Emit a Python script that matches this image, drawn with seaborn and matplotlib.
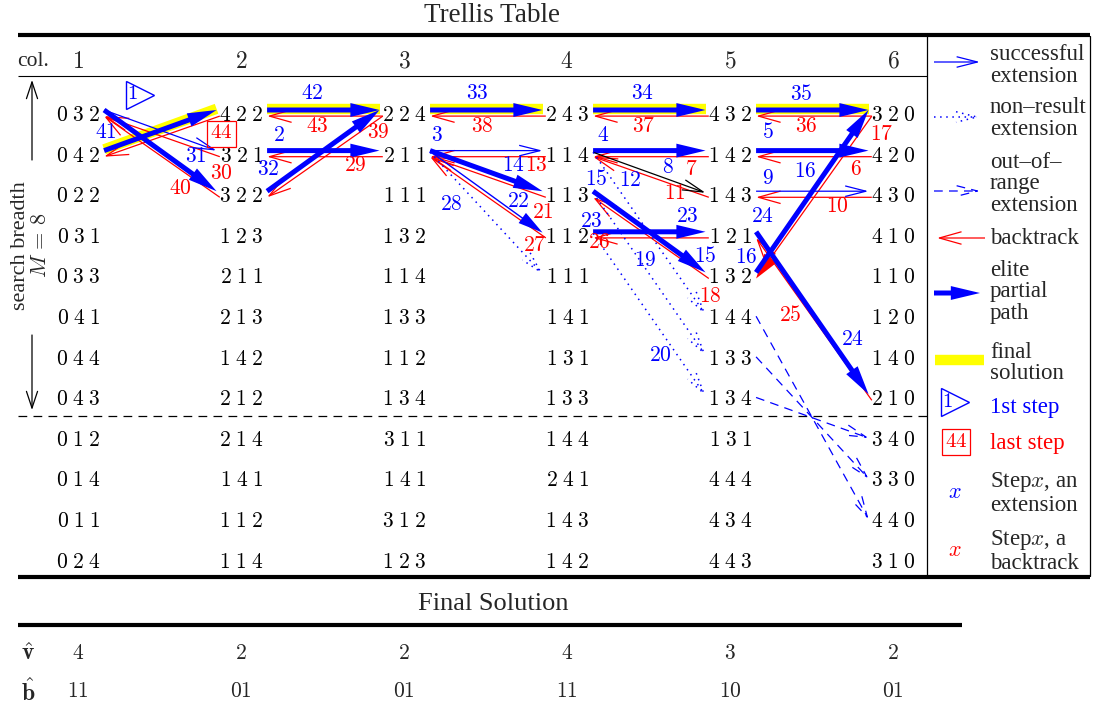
import numpy as np
import pandas as pd
import matplotlib
matplotlib.use('Agg')
import matplotlib.pyplot as plt
import seaborn as sns
from matplotlib.patches import FancyArrowPatch

# ---- data -------------------------------------------------------------
col_labels = ['1', '2', '3', '4', '5', '6']
cells_c1 = ['032', '042', '022', '031', '033', '041', '044', '043', '012', '014', '011', '024']
cells_c2 = ['422', '321', '322', '123', '211', '213', '142', '212', '214', '141', '112', '114']
cells_c3 = ['224', '211', '111', '132', '114', '133', '112', '134', '311', '141', '312', '123']
cells_c4 = ['243', '114', '113', '112', '111', '141', '131', '133', '144', '241', '143', '142']
cells_c5 = ['432', '142', '143', '121', '132', '144', '133', '134', '131', '444', '434', '443']
cells_c6 = ['320', '420', '430', '410', '110', '120', '140', '210', '340', '330', '440', '310']
cells = [cells_c1, cells_c2, cells_c3, cells_c4, cells_c5, cells_c6]
breadth = 8  # rows above the dashed line

final_rows = [2, 1, 1, 1, 1, 1]          # row of the final solution in each column
v_hat = ['4', '2', '2', '4', '3', '2']
b_hat = ['11', '01', '01', '11', '10', '01']

# (from_col, from_row, to_col, to_row, kind)
moves = [
    (1, 1, 2, 2, 'ext'), (1, 1, 2, 3, 'elite'), (1, 2, 2, 1, 'elite'),
    (2, 1, 1, 2, 'back'), (2, 2, 1, 1, 'back'), (2, 3, 1, 1, 'back'),
    (2, 1, 3, 1, 'elite'), (3, 1, 2, 1, 'back'), (2, 2, 3, 2, 'elite'), (3, 2, 2, 2, 'back'),
    (2, 3, 3, 1, 'elite'), (3, 1, 2, 3, 'back'),
    (3, 1, 4, 1, 'elite'), (4, 1, 3, 1, 'back'), (3, 2, 4, 2, 'ext'), (4, 2, 3, 2, 'back'),
    (3, 2, 4, 3, 'elite'), (4, 3, 3, 2, 'back'), (3, 2, 4, 4, 'thinhead'), (4, 4, 3, 2, 'back'),
    (3, 2, 4, 5, 'dot'),
    (4, 1, 5, 1, 'elite'), (5, 1, 4, 1, 'back'), (4, 2, 5, 2, 'elite'), (5, 2, 4, 2, 'back'),
    (4, 2, 5, 3, 'black'), (5, 3, 4, 2, 'back'), (4, 3, 5, 5, 'elite'), (5, 5, 4, 3, 'back'),
    (4, 4, 5, 4, 'elite'), (5, 4, 4, 4, 'back'),
    (4, 2, 5, 6, 'dot'), (4, 3, 5, 7, 'dot'), (4, 4, 5, 8, 'dot'),
    (5, 1, 6, 1, 'elite'), (6, 1, 5, 1, 'back'), (5, 2, 6, 2, 'elite'), (6, 2, 5, 2, 'back'),
    (5, 3, 6, 3, 'ext'), (6, 3, 5, 3, 'back'), (5, 5, 6, 1, 'elite'), (6, 1, 5, 5, 'backfill'),
    (5, 4, 6, 8, 'elite'), (6, 8, 5, 4, 'back'),
    (5, 6, 6, 11, 'dash'), (5, 7, 6, 10, 'dash'), (5, 8, 6, 9, 'dash'),
]

# step numbers: (text, colour kind, col, row) in table units
step_labels = [
    ('41', 'e', 1.17, 1.43), ('31', 'e', 1.72, 2.02), ('30', 'b', 1.88, 2.42), ('40', 'b', 1.63, 2.81),
    ('42', 'e', 2.44, 0.47), ('43', 'b', 2.47, 1.26), ('2', 'e', 2.23, 1.50), ('29', 'b', 2.70, 2.24),
    ('32', 'e', 2.17, 2.32), ('39', 'b', 2.84, 1.41),
    ('33', 'e', 3.45, 0.47), ('38', 'b', 3.48, 1.26), ('3', 'e', 3.20, 1.50), ('14', 'e', 3.67, 2.24),
    ('13', 'b', 3.81, 2.24), ('22', 'e', 3.70, 3.11), ('21', 'b', 3.85, 3.38), ('28', 'e', 3.29, 3.18),
    ('27', 'b', 3.80, 4.21),
    ('34', 'e', 4.46, 0.47), ('37', 'b', 4.47, 1.26), ('4', 'e', 4.22, 1.50), ('7', 'b', 4.76, 2.32),
    ('8', 'e', 4.62, 2.27), ('12', 'e', 4.39, 2.61), ('11', 'b', 4.66, 2.93), ('15', 'e', 4.18, 2.56),
    ('23', 'e', 4.15, 3.60), ('23', 'e', 4.74, 3.48), ('26', 'b', 4.20, 4.12), ('15', 'e', 4.85, 4.46),
    ('18', 'b', 4.88, 5.45), ('19', 'e', 4.48, 4.58), ('20', 'e', 4.57, 6.90),
    ('35', 'e', 5.44, 0.47), ('36', 'b', 5.47, 1.26), ('5', 'e', 5.23, 1.41), ('6', 'b', 5.77, 2.32),
    ('9', 'e', 5.23, 2.56), ('10', 'b', 5.66, 3.25), ('16', 'e', 5.46, 2.39), ('16', 'e', 5.10, 4.49),
    ('17', 'b', 5.93, 1.46), ('24', 'e', 5.20, 3.50), ('24', 'e', 5.75, 6.51), ('25', 'b', 5.37, 5.91),
]
first_step = ('1', 1.38, 0.47)
last_step = ('44', 1.88, 1.43)

legend_items = [
    ('successful\nextension', 'ext'),
    ('non\u2013result\nextension', 'dot'),
    ('out\u2013of\u2013\nrange\nextension', 'dash'),
    ('backtrack', 'back'),
    ('elite\npartial\npath', 'elite'),
    ('final\nsolution', 'final'),
]

# ---- style --------------------------------------------------------------
sns.set_theme(style='white')
plt.rcParams['font.family'] = ['Liberation Serif', 'DejaVu Serif']
plt.rcParams['mathtext.fontset'] = 'cm'

BLUE, RED, YELLOW = '#0000ff', '#ff0000', '#ffff00'
STYLE = {
    'ext': dict(arrowstyle='->,head_length=15,head_width=3.8', lw=0.9, color=BLUE, ls='-', z=4),
    'black': dict(arrowstyle='->,head_length=15,head_width=3.8', lw=0.9, color='black', ls='-', z=4),
    'dot': dict(arrowstyle='->,head_length=15,head_width=3.8', lw=1.1, color=BLUE, ls=(0, (1, 3)), z=4),
    'dash': dict(arrowstyle='->,head_length=15,head_width=3.8', lw=0.9, color=BLUE, ls=(0, (7, 5)), z=4),
    'back': dict(arrowstyle='->,head_length=16,head_width=4.5', lw=0.9, color=RED, ls='-', z=3),
    'elite': dict(arrowstyle='simple,head_length=21,head_width=10,tail_width=3.6', lw=0, color=BLUE, ls='-', z=4),
    'thinhead': dict(arrowstyle='simple,head_length=18,head_width=9,tail_width=1.0', lw=0, color=BLUE, ls='-', z=4),
    'backfill': dict(arrowstyle='simple,head_length=18,head_width=11,tail_width=0.9', lw=0, color=RED, ls='-', z=3),
}
DY = {'ext': -0.16, 'black': -0.12, 'dot': -0.12, 'dash': -0.08, 'elite': -0.16, 'thinhead': -0.14,
      'back': -0.01, 'backfill': -0.01}

W, H = 1094, 708
fig = plt.figure(figsize=(W / 100, H / 100), dpi=100)
ax = fig.add_axes([0, 0, 1, 1])
ax.axis('off')

COLW, ROWH = 163.0, 40.6
X1, Y1 = 78.0, 116.5


def P(x, y):
    # layout position given in figure pixels -> table units
    return 1 + (x - X1) / COLW, 1 + (y - Y1) / ROWH


def draw_arrow(p0, p1, kind):
    st = STYLE[kind]
    ax.add_patch(FancyArrowPatch(p0, p1, arrowstyle=st['arrowstyle'], mutation_scale=1,
                                 lw=st['lw'], color=st['color'], linestyle=st['ls'],
                                 shrinkA=0, shrinkB=0, zorder=st['z'], capstyle='butt'))


def move_ends(c0, r0, c1, r1, dy):
    if c1 > c0:
        return (c0 + 0.16, r0 + dy), (c1 - 0.15, r1 + dy)
    return (c0 - 0.13, r0 + dy), (c1 + 0.16, r1 + dy)


# ---- final solution band (yellow) ----------------------------------------
segs = []
for i in range(len(final_rows) - 1):
    p0, p1 = move_ends(i + 1, final_rows[i], i + 2, final_rows[i + 1], -0.19)
    segs += [dict(seg=i, x=p0[0], y=p0[1]), dict(seg=i, x=p1[0], y=p1[1])]
band = pd.DataFrame(segs)
sns.lineplot(data=band, x='x', y='y', units='seg', estimator=None, sort=False,
             color=YELLOW, lw=7.5, solid_capstyle='butt', ax=ax, legend=False, zorder=1)
ax.axis('off')

# ---- table cells ----------------------------------------------------------
for ci, col in enumerate(cells, start=1):
    ax.text(ci, P(0, 62)[1], r'$%s$' % col_labels[ci - 1], ha='center', va='center', fontsize=17)
    for ri, trip in enumerate(col, start=1):
        ax.text(ci, ri, r'$%s\;%s\;%s$' % tuple(trip), ha='center', va='center',
                fontsize=15.5, color='black', zorder=2)

# ---- moves ------------------------------------------------------------------
for c0, r0, c1, r1, kind in moves:
    p0, p1 = move_ends(c0, r0, c1, r1, DY[kind])
    draw_arrow(p0, p1, kind)

for txt, k, x, y in step_labels:
    ax.text(x, y, r'$%s$' % txt, color=BLUE if k == 'e' else RED, ha='center', va='center',
            fontsize=15.5, zorder=6)


def first_marker(x, y, txt):
    ax.plot([x], [y], marker='>', ms=20, mfc='none', mec=BLUE, mew=1.0, zorder=6)
    ax.text(x - 0.045, y, r'$%s$' % txt, color=BLUE, ha='center', va='center', fontsize=15, zorder=6)


def last_marker(x, y, txt):
    ax.text(x, y, r'$%s$' % txt, color=RED, ha='center', va='center', fontsize=15, zorder=6,
            bbox=dict(boxstyle='square,pad=0.15', fc='none', ec=RED, lw=0.9))


first_marker(first_step[1], first_step[2], first_step[0])
last_marker(last_step[1], last_step[2], last_step[0])


# ---- frame lines ------------------------------------------------------------
def hline(y, x0, x1, **kw):
    a, b = P(x0, y), P(x1, y)
    ax.plot([a[0], b[0]], [a[1], b[1]], color='black', solid_capstyle='butt', **kw)


def vline(x, y0, y1, **kw):
    a, b = P(x, y0), P(x, y1)
    ax.plot([a[0], b[0]], [a[1], b[1]], color='black', **kw)


hline(35, 18, 1090, lw=3)
hline(76, 18, 927, lw=0.8)
hline(416, 18, 927, lw=0.9, ls=(0, (7, 5)))
hline(577, 18, 1090, lw=3)
hline(625, 18, 962, lw=3)
vline(927, 36, 576, lw=0.9)
vline(1090, 36, 576, lw=0.9)

ax.text(*P(492, 15), 'Trellis Table', ha='center', va='center', fontsize=19.5)
ax.text(*P(493, 604), 'Final Solution', ha='center', va='center', fontsize=19)
ax.text(*P(33, 62), 'col.', ha='center', va='center', fontsize=15.5)

# search breadth
ax.add_patch(FancyArrowPatch(P(32, 160), P(32, 80), arrowstyle='->,head_length=12,head_width=4',
                             mutation_scale=1, lw=0.9, color='black', shrinkA=0, shrinkB=0))
ax.add_patch(FancyArrowPatch(P(32, 335), P(32, 410), arrowstyle='->,head_length=12,head_width=4',
                             mutation_scale=1, lw=0.9, color='black', shrinkA=0, shrinkB=0))
ax.text(*P(20, 246), 'search breadth', rotation=90, ha='center', va='center', fontsize=16)
ax.text(*P(42, 245), r'$M\,=\,%d$' % breadth, rotation=90, ha='center', va='center', fontsize=16)

# final solution rows
ax.text(*P(28, 654), r'$\hat{\mathbf{v}}$', ha='center', va='center', fontsize=17)
ax.text(*P(28, 692), r'$\hat{\mathbf{b}}$', ha='center', va='center', fontsize=17)
for ci in range(1, 7):
    ax.text(ci, P(0, 654)[1], r'$%s$' % v_hat[ci - 1], ha='center', va='center', fontsize=15.5)
    ax.text(ci, P(0, 692)[1], r'$%s$' % b_hat[ci - 1], ha='center', va='center', fontsize=15.5)

# ---- legend -----------------------------------------------------------------
LS = 1.02
leg_text_y = [65.6, 118.5, 184, 238, 292, 363]
leg_mark_y = [62, 117, 191, 238, 293, 360]
for (label, kind), ty, my in zip(legend_items, leg_text_y, leg_mark_y):
    ax.text(*P(990, ty), label, ha='left', va='center', fontsize=16.5, linespacing=LS)
    if kind == 'final':
        a, b = P(935, my), P(984, my)
        ax.plot([a[0], b[0]], [a[1], b[1]], color=YELLOW, lw=7.5, solid_capstyle='butt')
    elif kind == 'back':
        draw_arrow(P(985, my), P(937, my), kind)
    else:
        draw_arrow(P(934, my), P(980, my), kind)

first_marker(*P(955, 402), '1')
ax.text(*P(990, 407), '1st step', color=BLUE, ha='left', va='center', fontsize=16.5)
last_marker(*P(956, 442), '44')
ax.text(*P(990, 443), 'last step', color=RED, ha='left', va='center', fontsize=16.5)
ax.text(*P(955, 493), r'$x$', color=BLUE, ha='center', va='center', fontsize=16)
ax.text(*P(990, 493), 'Step$x$, an\nextension', ha='left', va='center', fontsize=16.5, linespacing=LS)
ax.text(*P(955, 552), r'$x$', color=RED, ha='center', va='center', fontsize=16)
ax.text(*P(990, 551), 'Step$x$, a\nbacktrack', ha='left', va='center', fontsize=16.5, linespacing=LS)

ax.set_xlim(1 - X1 / COLW, 1 + (W - X1) / COLW)
ax.set_ylim(1 + (H - Y1) / ROWH, 1 - Y1 / ROWH)
fig.savefig('out.png', dpi=100, facecolor='white')
